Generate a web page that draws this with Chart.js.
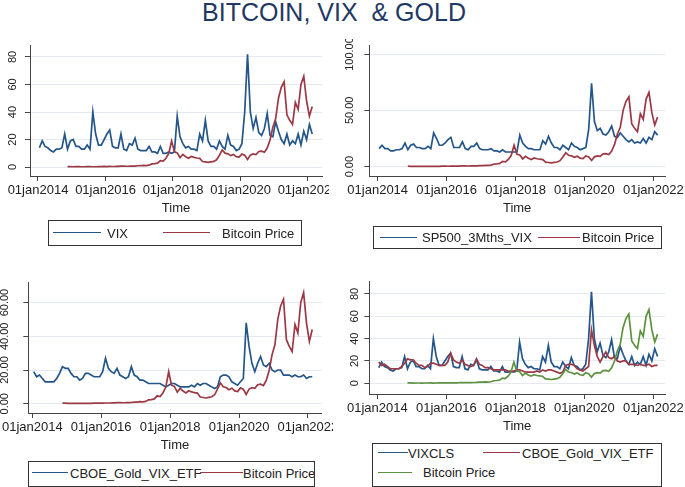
<!DOCTYPE html>
<html>
<head>
<meta charset="utf-8">
<script src="https://cdn.jsdelivr.net/npm/chart.js@4.4.1/dist/chart.umd.min.js"></script>
<style>
  body { margin: 0; background: #fff; width: 685px; height: 487px; overflow: hidden; position: relative;
         font-family: "Liberation Sans", Arial, sans-serif; }
  #title { position: absolute; left: 0; top: 0; width: 668px; text-align: center; font-size: 25px;
           line-height: 25px; color: #1f3864; white-space: pre; }
  canvas { position: absolute; }
  .legend { position: absolute; border: 1px solid #333; box-sizing: border-box; overflow: hidden; }
  .legend span { position: absolute; font-size: 13px; line-height: 13px; color: #222; white-space: nowrap; }
  .legend i { position: absolute; height: 0; border-top: 1.5px solid; }
</style>
</head>
<body>
<div id="title">BITCOIN, VIX  &amp; GOLD</div>
<canvas id="c1"></canvas>
<canvas id="c2"></canvas>
<canvas id="c3"></canvas>
<canvas id="c4"></canvas>
<script>
const months = [
  '2014-01','2014-02','2014-03','2014-04','2014-05','2014-06','2014-07','2014-08','2014-09','2014-10','2014-11','2014-12',
  '2015-01','2015-02','2015-03','2015-04','2015-05','2015-06','2015-07','2015-08','2015-09','2015-10','2015-11','2015-12',
  '2016-01','2016-02','2016-03','2016-04','2016-05','2016-06','2016-07','2016-08','2016-09','2016-10','2016-11','2016-12',
  '2017-01','2017-02','2017-03','2017-04','2017-05','2017-06','2017-07','2017-08','2017-09','2017-10','2017-11','2017-12',
  '2018-01','2018-02','2018-03','2018-04','2018-05','2018-06','2018-07','2018-08','2018-09','2018-10','2018-11','2018-12',
  '2019-01','2019-02','2019-03','2019-04','2019-05','2019-06','2019-07','2019-08','2019-09','2019-10','2019-11','2019-12',
  '2020-01','2020-02','2020-03','2020-04','2020-05','2020-06','2020-07','2020-08','2020-09','2020-10','2020-11','2020-12',
  '2021-01','2021-02','2021-03','2021-04','2021-05','2021-06','2021-07','2021-08','2021-09','2021-10','2021-11','2021-12',
  '2022-01','2022-02'
];

const vix = [
  14, 19, 15, 14, 12, 11, 13, 13, 14, 24, 13, 19,
  20, 15, 15, 13, 13, 16, 13, 40, 24, 16, 16, 20,
  24, 27, 15, 14, 14, 24, 13, 12, 17, 16, 21, 13,
  12, 12, 12, 15, 11, 11, 10, 15, 10, 10, 11, 10,
  11, 37, 22, 17, 14, 15, 13, 13, 12, 24, 19, 34,
  19, 15, 15, 13, 19, 15, 13, 23, 16, 15, 12, 13,
  17, 40, 82, 40, 28, 36, 25, 23, 28, 39, 23, 22,
  33, 26, 20, 17, 24, 16, 19, 17, 24, 16, 26, 20,
  31, 24
];

const vix3m = [
  16, 19, 16, 16, 14, 14, 15, 15, 16, 21, 15, 19,
  20, 17, 17, 16, 16, 18, 16, 30, 25, 19, 19, 21,
  24, 26, 17, 17, 17, 22, 16, 15, 18, 18, 21, 16,
  15, 15, 15, 16, 14, 14, 13, 15, 13, 13, 13, 13,
  13, 28, 21, 18, 16, 16, 15, 15, 15, 23, 20, 27,
  21, 17, 17, 15, 19, 17, 15, 21, 18, 17, 15, 16,
  17, 33, 74, 40, 32, 34, 29, 28, 31, 36, 27, 26,
  30, 27, 24, 22, 24, 21, 22, 21, 25, 21, 26, 24,
  31, 28
];

const goldVix = [
  19, 16, 17, 15, 13, 13, 13, 13, 15, 18, 22, 21,
  21, 18, 16, 16, 14, 15, 18, 18, 17, 16, 16, 16,
  19, 27, 21, 19, 18, 21, 17, 16, 15, 16, 22, 17,
  16, 14, 14, 13, 12, 12, 12, 12, 12, 11, 10, 11,
  12, 12, 11, 10, 10, 10, 10, 11, 10, 12, 11, 12,
  12, 11, 10, 9, 10, 16, 17, 17, 16, 13, 12, 11,
  13, 15, 48, 34, 24, 19, 24, 28, 23, 22, 24, 20,
  19, 20, 20, 17, 17, 17, 16, 17, 16, 16, 17, 15,
  16, 16
];

// bitcoin price in thousands of USD
const bitcoin = [
  null, null, null, null, null, null, null, null, null, null, 0.38, 0.33,
  0.22, 0.25, 0.25, 0.23, 0.24, 0.26, 0.28, 0.23, 0.24, 0.31, 0.38, 0.43,
  0.37, 0.44, 0.42, 0.45, 0.53, 0.67, 0.62, 0.57, 0.61, 0.70, 0.74, 0.96,
  0.97, 1.19, 1.07, 1.35, 2.3, 2.48, 2.87, 4.7, 4.3, 6.4, 9.9, 19.0,
  11.0, 10.3, 6.9, 9.2, 7.5, 6.4, 7.7, 7.0, 6.6, 6.3, 4.0, 3.7,
  3.4, 3.8, 4.1, 5.3, 8.6, 12.4, 10.1, 9.6, 8.3, 9.2, 7.6, 7.2,
  9.4, 8.6, 5.5, 8.7, 9.5, 9.1, 11.3, 11.6, 10.8, 13.8, 19.7, 29.0,
  35, 50, 58, 62, 38, 34, 31, 47, 42, 60, 66, 48,
  37, 44
];

const xTicks = [2014, 2016, 2018, 2020, 2022];
const yTicks80 = [0, 20, 40, 60, 80];
const yTicks100 = [0, 50, 100];
const yTicks60 = [0, 20, 40, 60];

const BLUE = '#24568a';
const RED = '#9c3945';
const GREEN = '#5e9140';
const FONT = "'Liberation Sans', Arial, sans-serif";

Chart.defaults.font.family = FONT;
Chart.defaults.color = '#222';

const toYear = m => {
    const [y, mo] = m.split('-').map(Number);
    return y + (mo - 0.5) / 12;
};

const panels = [
    {
        id: 'c1', left: 0, top: 35, width: 329, height: 186,
        area: { left: 30, top: 10, right: 322 },
        xRange: [2013.763, 2022.415], yRange: [-6.5, 88.7], yTicks: yTicks80, decimals: 0, yPad: 5.6,
        series: [['VIX', vix, BLUE], ['Bitcoin Price', bitcoin, RED]],
        legend: { box: [48, 220, 302, 246], rows: [233], items: [[53, 101, 107, 0], [163, 210, 222, 0]] }
    },
    {
        id: 'c2', left: 340, top: 39, width: 345, height: 182,
        area: { left: 29.3, top: 6, right: 325 },
        xRange: [2013.756, 2022.34], yRange: [-8.3, 108], yTicks: yTicks100, decimals: 2, yPad: -2.5,
        series: [['SP500_3Mths_VIX', vix3m, BLUE], ['Bitcoin Price', bitcoin, RED]],
        legend: { box: [373, 226, 662, 249], rows: [237.5], items: [[380, 417, 422, 0], [538, 580, 582, 0]] }
    },
    {
        id: 'c3', left: 0, top: 272, width: 333, height: 186,
        area: { left: 28.3, top: 10.7, right: 321.7 },
        xRange: [2013.884, 2022.4], yRange: [-5.5, 71.8], yTicks: yTicks60, decimals: 2, yPad: 4.5,
        series: [['CBOE_Gold_VIX_ETF', goldVix, BLUE], ['Bitcoin Price', bitcoin, RED]],
        legend: { box: [28, 461, 315, 487], rows: [473], items: [[32, 68, 70, 0], [200, 243, 243, 0]] }
    },
    {
        id: 'c4', left: 340, top: 272, width: 345, height: 167,
        area: { left: 29.3, top: 9.7, right: 325 },
        xRange: [2013.768, 2022.34], yRange: [-9.6, 91], yTicks: yTicks80, decimals: 0, yPad: 3.2,
        series: [['VIXCLS', vix, BLUE], ['CBOE_Gold_VIX_ETF', goldVix, RED], ['Bitcoin Price', bitcoin, GREEN]],
        legend: { box: [372, 443, 662, 487], rows: [453, 472.5], items: [[378, 408, 408, 0], [483, 520, 522, 0], [378, 412, 423, 1]] }
    }
];

const X_AXIS_HEIGHT = 45;

const makeLegend = p => {
    const [l, t, r, b] = p.legend.box;
    const div = document.createElement('div');
    div.className = 'legend';
    Object.assign(div.style, { left: l + 'px', top: t + 'px', width: (r - l) + 'px', height: (b - t) + 'px' });
    p.series.forEach(([name, , color], i) => {
        const [x1, x2, tx, row] = p.legend.items[i];
        const cy = p.legend.rows[row] - t - 1;
        const line = document.createElement('i');
        Object.assign(line.style, { left: (x1 - l - 1) + 'px', width: (x2 - x1) + 'px', top: (cy - 0.75) + 'px', borderColor: color });
        const label = document.createElement('span');
        label.textContent = name;
        Object.assign(label.style, { left: (tx - l - 1) + 'px', top: (cy - 6.5) + 'px' });
        div.appendChild(line);
        div.appendChild(label);
    });
    document.body.appendChild(div);
};

const makePanel = p => {
    const canvas = document.getElementById(p.id);
    canvas.width = p.width;
    canvas.height = p.height;
    canvas.style.left = p.left + 'px';
    canvas.style.top = p.top + 'px';

    const datasets = p.series.map(([name, values, color], i) => ({
        label: name,
        data: months.map((m, j) => ({ x: toYear(m), y: values[j] })),
        borderColor: color,
        backgroundColor: color,
        borderWidth: 1.7,
        pointRadius: 0,
        tension: 0,
        order: p.series.length - i // later series drawn on top, as in Stata
    }));

    new Chart(canvas.getContext('2d'), {
        type: 'line',
        data: { datasets },
        options: {
            responsive: false,
            animation: false,
            events: [],
            layout: { padding: { left: 0, top: p.area.top, right: p.width - p.area.right, bottom: 0 } },
            plugins: { legend: { display: false }, tooltip: { enabled: false } },
            scales: {
                x: {
                    type: 'linear',
                    min: p.xRange[0],
                    max: p.xRange[1],
                    afterBuildTicks: s => { s.ticks = xTicks.map(v => ({ value: v })); },
                    afterFit: s => { s.height = X_AXIS_HEIGHT; s.paddingLeft = 0; s.paddingRight = 0; },
                    grid: { drawOnChartArea: false, drawTicks: true, tickLength: 5, tickColor: '#444', color: '#444' },
                    border: { color: '#444', width: 1 },
                    ticks: {
                        autoSkip: false, maxRotation: 0, minRotation: 0, padding: 1.5,
                        font: { size: 13 }, color: '#222',
                        callback: v => '01jan' + v
                    },
                    title: { display: true, text: 'Time', font: { size: 13 }, color: '#222', padding: { top: 0, bottom: 5 } }
                },
                y: {
                    type: 'linear',
                    min: p.yRange[0],
                    max: p.yRange[1],
                    afterBuildTicks: s => { s.ticks = p.yTicks.map(v => ({ value: v })); },
                    afterFit: s => { s.width = p.area.left; s.paddingTop = 0; s.paddingBottom = 0; },
                    grid: { color: '#e4eaef', lineWidth: 1, tickLength: 5, tickColor: '#444' },
                    border: { color: '#444', width: 1 },
                    ticks: {
                        autoSkip: false, minRotation: 90, maxRotation: 90, crossAlign: 'center', padding: p.yPad,
                        font: { size: 11 }, color: '#222',
                        callback: v => v.toFixed(p.decimals)
                    }
                }
            }
        }
    });
    makeLegend(p);
};

panels.forEach(makePanel);
</script>
</body>
</html>
